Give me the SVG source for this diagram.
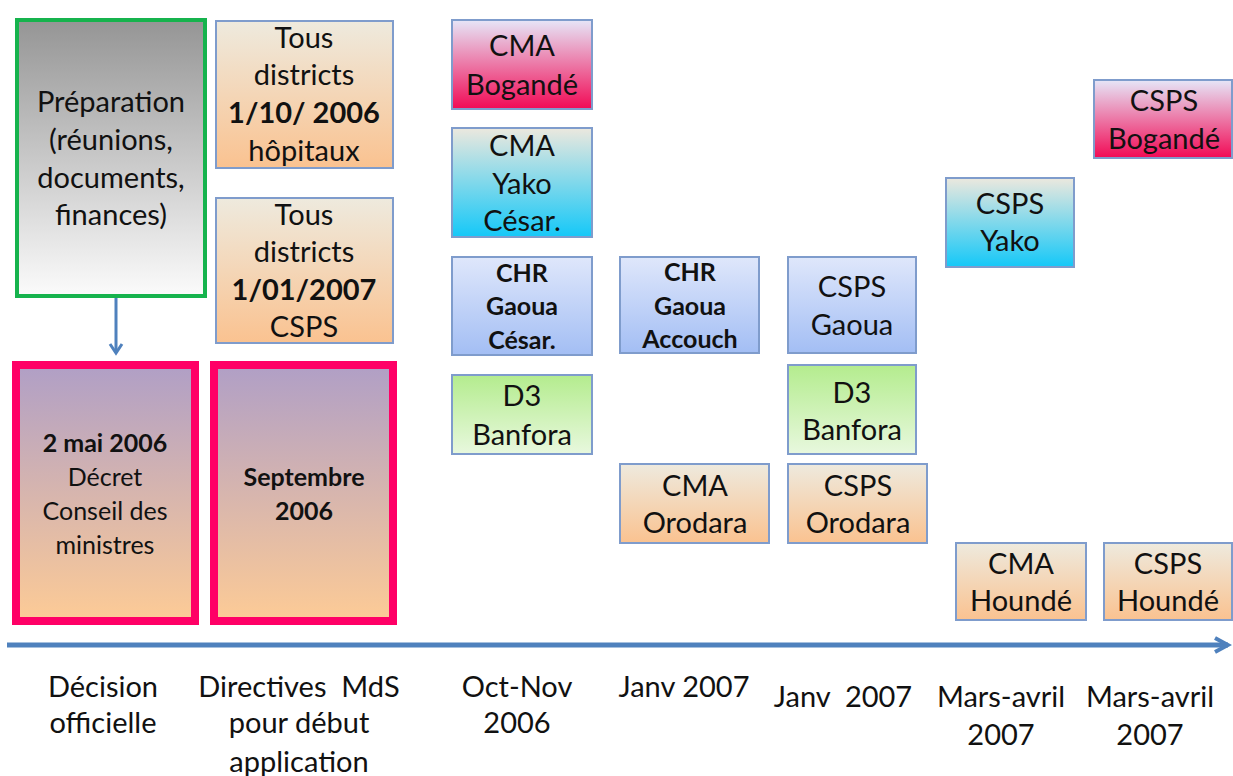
<svg xmlns="http://www.w3.org/2000/svg" width="1233" height="776" viewBox="0 0 1233 776">
<style>
text{font-family:Lato,"Open Sans","Liberation Sans",sans-serif;font-size:29px;fill:#111;text-anchor:middle}
.b{font-weight:bold}
.s{font-size:25px}
.box{stroke:#7f9ccc;stroke-width:2}
.red{stroke:#ff0066;stroke-width:8}
.conn{stroke:#4f81bd;fill:none}
</style>
<defs>
<linearGradient id="gGrey" x1="0" y1="0" x2="0" y2="1"><stop offset="0" stop-color="#959595"/><stop offset="1" stop-color="#fbfbfb"/></linearGradient>
<linearGradient id="gOrange" x1="0" y1="0" x2="0" y2="1"><stop offset="0" stop-color="#eeeade"/><stop offset="1" stop-color="#fac290"/></linearGradient>
<linearGradient id="gRed" x1="0" y1="0" x2="0" y2="1"><stop offset="0" stop-color="#b09fc6"/><stop offset="1" stop-color="#fdcb96"/></linearGradient>
<linearGradient id="gPink" x1="0" y1="0" x2="0" y2="1"><stop offset="0" stop-color="#e6e6f8"/><stop offset="1" stop-color="#f20a55"/></linearGradient>
<linearGradient id="gCyan" x1="0" y1="0" x2="0" y2="1"><stop offset="0" stop-color="#ece8de"/><stop offset="1" stop-color="#14c8f8"/></linearGradient>
<linearGradient id="gBlue" x1="0" y1="0" x2="0" y2="1"><stop offset="0" stop-color="#dfe7fb"/><stop offset="1" stop-color="#a3bef4"/></linearGradient>
<linearGradient id="gGreen" x1="0" y1="0" x2="0" y2="1"><stop offset="0" stop-color="#b4ec8e"/><stop offset="1" stop-color="#e8f8de"/></linearGradient>
<marker id="ah" markerWidth="16" markerHeight="16" refX="11" refY="8" orient="auto" markerUnits="userSpaceOnUse"><path d="M2,2 L11,8 L2,14" fill="none" stroke="#4f81bd" stroke-width="3"/></marker>
<marker id="ahBig" markerWidth="20" markerHeight="20" refX="16" refY="10" orient="auto" markerUnits="userSpaceOnUse"><path d="M3,3 L16,10 L3,17" fill="none" stroke="#4f81bd" stroke-width="4"/></marker>
</defs>

<g id="connectors">
<line class="conn" x1="116" y1="298" x2="116" y2="353" stroke-width="3" marker-end="url(#ah)"/>
<line class="conn" x1="7" y1="645" x2="1228" y2="645" stroke-width="5" marker-end="url(#ahBig)"/>
</g>

<g id="preparation">
<rect x="17" y="20" width="188" height="276" fill="url(#gGrey)" stroke="#16b34d" stroke-width="4"/>
<text x="111" y="112">Préparation</text>
<text x="111" y="150">(réunions,</text>
<text x="111" y="188">documents,</text>
<text x="111" y="225">finances)</text>
</g>

<g id="tous1">
<rect class="box" x="216" y="21" width="177" height="147" fill="url(#gOrange)"/>
<text x="304" y="48">Tous</text>
<text x="304" y="85">districts</text>
<text x="304" y="123" class="b">1/10/ 2006</text>
<text x="304" y="161">hôpitaux</text>
</g>

<g id="tous2">
<rect class="box" x="216" y="198" width="177" height="145" fill="url(#gOrange)"/>
<text x="304" y="225">Tous</text>
<text x="304" y="262">districts</text>
<text x="304" y="300" class="b">1/01/2007</text>
<text x="304" y="337">CSPS</text>
</g>

<g id="decret">
<rect class="red" x="16" y="365" width="179" height="256" fill="url(#gRed)"/>
<text x="105" y="452" class="b s">2 mai 2006</text>
<text x="105" y="486" class="s">Décret</text>
<text x="105" y="520" class="s">Conseil des</text>
<text x="105" y="554" class="s">ministres</text>
</g>

<g id="septembre">
<rect class="red" x="214" y="365" width="179" height="256" fill="url(#gRed)"/>
<text x="304" y="486" class="b s">Septembre</text>
<text x="304" y="520" class="b s">2006</text>
</g>

<g id="cmaBogande">
<rect class="box" x="452" y="20" width="140" height="89" fill="url(#gPink)"/>
<text x="522" y="56">CMA</text>
<text x="522" y="95">Bogandé</text>
</g>

<g id="cmaYako">
<rect class="box" x="452" y="128" width="140" height="109" fill="url(#gCyan)"/>
<text x="522" y="156">CMA</text>
<text x="522" y="194">Yako</text>
<text x="522" y="231">César.</text>
</g>

<g id="chrGaouaCesar">
<rect class="box" x="452" y="257" width="140" height="98" fill="url(#gBlue)"/>
<text x="522" y="282" class="b s">CHR</text>
<text x="522" y="315" class="b s">Gaoua</text>
<text x="522" y="349" class="b s">César.</text>
</g>

<g id="d3Banfora1">
<rect class="box" x="452" y="375" width="140" height="79" fill="url(#gGreen)"/>
<text x="522" y="406">D3</text>
<text x="522" y="445">Banfora</text>
</g>

<g id="chrGaouaAccouch">
<rect class="box" x="620" y="257" width="139" height="96" fill="url(#gBlue)"/>
<text x="690" y="281" class="b s">CHR</text>
<text x="690" y="315" class="b s">Gaoua</text>
<text x="690" y="348" class="b s">Accouch</text>
</g>

<g id="cmaOrodara">
<rect class="box" x="620" y="464" width="149" height="79" fill="url(#gOrange)"/>
<text x="695" y="496">CMA</text>
<text x="695" y="533">Orodara</text>
</g>

<g id="cspsGaoua">
<rect class="box" x="788" y="257" width="128" height="96" fill="url(#gBlue)"/>
<text x="852" y="297">CSPS</text>
<text x="852" y="335">Gaoua</text>
</g>

<g id="d3Banfora2">
<rect class="box" x="788" y="365" width="128" height="89" fill="url(#gGreen)"/>
<text x="852" y="403">D3</text>
<text x="852" y="440">Banfora</text>
</g>

<g id="cspsOrodara">
<rect class="box" x="788" y="464" width="139" height="79" fill="url(#gOrange)"/>
<text x="858" y="496">CSPS</text>
<text x="858" y="533">Orodara</text>
</g>

<g id="cspsYako">
<rect class="box" x="946" y="178" width="128" height="89" fill="url(#gCyan)"/>
<text x="1010" y="214">CSPS</text>
<text x="1010" y="251">Yako</text>
</g>

<g id="cspsBogande">
<rect class="box" x="1094" y="80" width="138" height="78" fill="url(#gPink)"/>
<text x="1164" y="111">CSPS</text>
<text x="1164" y="149">Bogandé</text>
</g>

<g id="cmaHounde">
<rect class="box" x="956" y="543" width="130" height="77" fill="url(#gOrange)"/>
<text x="1021" y="574">CMA</text>
<text x="1021" y="611">Houndé</text>
</g>

<g id="cspsHounde">
<rect class="box" x="1104" y="543" width="128" height="77" fill="url(#gOrange)"/>
<text x="1168" y="574">CSPS</text>
<text x="1168" y="611">Houndé</text>
</g>

<g id="labels">
<text x="103" y="697">Décision</text>
<text x="103" y="733">officielle</text>
<text x="299" y="697" xml:space="preserve">Directives  MdS</text>
<text x="299" y="733">pour début</text>
<text x="299" y="772">application</text>
<text x="517" y="697">Oct-Nov</text>
<text x="517" y="733">2006</text>
<text x="684" y="697">Janv 2007</text>
<text x="843" y="707" xml:space="preserve">Janv  2007</text>
<text x="1001" y="707">Mars-avril</text>
<text x="1001" y="745">2007</text>
<text x="1150" y="707">Mars-avril</text>
<text x="1150" y="745">2007</text>
</g>
</svg>
